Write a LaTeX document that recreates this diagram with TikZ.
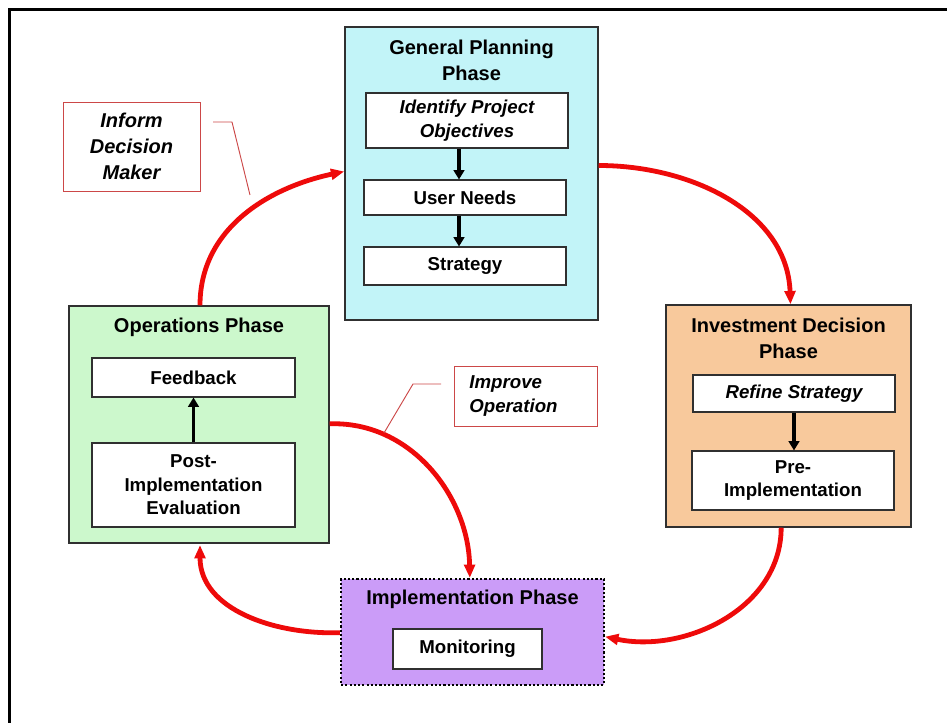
\documentclass[tikz,border=0pt]{standalone}
\usepackage{fontspec}
\setmainfont{Liberation Sans}
\usetikzlibrary{arrows.meta}
\definecolor{planfill}{HTML}{C2F4F8}
\definecolor{investfill}{HTML}{F8C99C}
\definecolor{implfill}{HTML}{CB9CF8}
\definecolor{opsfill}{HTML}{CCF8CC}
\definecolor{flowred}{HTML}{EE0A0A}
\definecolor{noteline}{HTML}{CC4848}
\definecolor{edgegrey}{HTML}{303030}
\begin{document}
\begin{tikzpicture}[x=0.75pt,y=-0.75pt,
  phase/.style={draw=edgegrey,line width=1.1pt,inner sep=0pt},
  task/.style={draw=edgegrey,fill=white,line width=0.8pt,inner sep=0pt,align=center,
    font=\fontsize{14}{17.6}\selectfont\bfseries},
  title/.style={align=center,inner sep=0pt,font=\fontsize{15}{19.5}\selectfont\bfseries},
  note/.style={draw=noteline,fill=white,line width=0.7pt,inner sep=0pt,align=center},
  flow/.style={draw=flowred,line width=3.6pt,-{Triangle[length=10pt,width=8pt]}},
  step arrow/.style={draw=black,line width=2.8pt,-{Triangle[length=7pt,width=8pt]}},
  leader/.style={draw=noteline,line width=0.7pt}]
\useasboundingbox (0,0) rectangle (947,723);
\fill[white] (0,0) rectangle (947,723);
% outer frame
\draw[line width=2.4pt] (9.5,723) -- (9.5,9.5) -- (947,9.5);

% General Planning Phase
\node[phase,fill=planfill,minimum width=253*0.75pt,minimum height=293*0.75pt] (gp) at (471.5,173.5) {};
\node[title] (gpt) at (471.5,60) {General Planning\\Phase};
\node[task,minimum width=202*0.75pt,minimum height=55*0.75pt] (idp) at (467,120.5) {\itshape Identify Project\\\itshape Objectives};
\node[task,minimum width=202*0.75pt,minimum height=35*0.75pt] (un) at (465,197.5) {User Needs};
\node[task,minimum width=202*0.75pt,minimum height=38*0.75pt] (st) at (465,266) {Strategy};
\draw[step arrow] ([xshift=-6pt]idp.south) -- ([xshift=-6pt]idp.south |- un.north);
\draw[step arrow] ([xshift=-4.5pt]un.south) -- ([xshift=-4.5pt]un.south |- st.north);

% Investment Decision Phase
\node[phase,fill=investfill,minimum width=245*0.75pt,minimum height=222*0.75pt] (inv) at (788.5,416) {};
\node[title] (invt) at (788.5,338.5) {Investment Decision\\Phase};
\node[task,minimum width=202*0.75pt,minimum height=37*0.75pt] (rs) at (794,393.5) {\itshape Refine Strategy};
\node[task,minimum width=202*0.75pt,minimum height=59*0.75pt] (pre) at (793,480.5) {Pre-\\Implementation};
\draw[step arrow] (rs.south) -- (rs.south |- pre.north);

% Implementation Phase
\node[phase,draw=black,line width=1.6pt,dash pattern=on 1.6pt off 1.6pt,fill=implfill,
  minimum width=263*0.75pt,minimum height=106*0.75pt] (imp) at (472.5,632) {};
\node[title] (impt) at (472.5,599) {Implementation Phase};
\node[task,minimum width=149*0.75pt,minimum height=40*0.75pt] (mon) at (467.5,649) {Monitoring};

% Operations Phase
\node[phase,fill=opsfill,minimum width=260*0.75pt,minimum height=237*0.75pt] (ops) at (199,424.5) {};
\node[title] (opst) at (199,327.5) {Operations Phase};
\node[task,minimum width=203*0.75pt,minimum height=39*0.75pt] (fb) at (193.5,377.5) {Feedback};
\node[task,minimum width=203*0.75pt,minimum height=84*0.75pt] (pie) at (193.5,485) {Post-\\Implementation\\Evaluation};
\draw[step arrow] (pie.north) -- (fb.south);

% Cycle between the phases
\draw[flow] ([xshift=0.75pt]ops.north) to[out=90,in=192] ([yshift=1.5pt]gp.west);
\draw[flow] ([yshift=6pt]gp.east) to[out=0,in=92] ([xshift=1.5pt]inv.north);
\draw[flow] ([xshift=-5.5pt]inv.south) to[out=-90,in=-12] ([yshift=-3.5pt]imp.east);
\draw[flow] ([yshift=-0.5pt]imp.west) to[out=182,in=-90] ([xshift=0.75pt,yshift=-1pt]ops.south);
\draw[flow] ([yshift=0.5pt]ops.east) to[out=2,in=91] ([xshift=-2pt]imp.north);

% Callouts
\node[note,minimum width=137*0.75pt,minimum height=89*0.75pt,
  font=\fontsize{15}{19.5}\selectfont\bfseries\itshape] (idm) at (131.5,146.5) {Inform\\Decision\\Maker};
\coordinate (idmA) at (213,122);
\coordinate (idmB) at (232,122);
\coordinate (idmC) at (250,195);
\draw[leader] (idmA) -- (idmB) -- (idmC);
\node[note,minimum width=143*0.75pt,minimum height=60*0.75pt,
  font=\fontsize{14}{18}\selectfont\bfseries\itshape] (imo) at (525.5,396) {\hspace*{-18pt}\begin{tabular}{@{}l@{}}Improve\\Operation\end{tabular}};
\coordinate (imoA) at (441,384);
\coordinate (imoB) at (413,384);
\coordinate (imoC) at (384,433);
\draw[leader] (imoA) -- (imoB) -- (imoC);
\end{tikzpicture}
\end{document}
